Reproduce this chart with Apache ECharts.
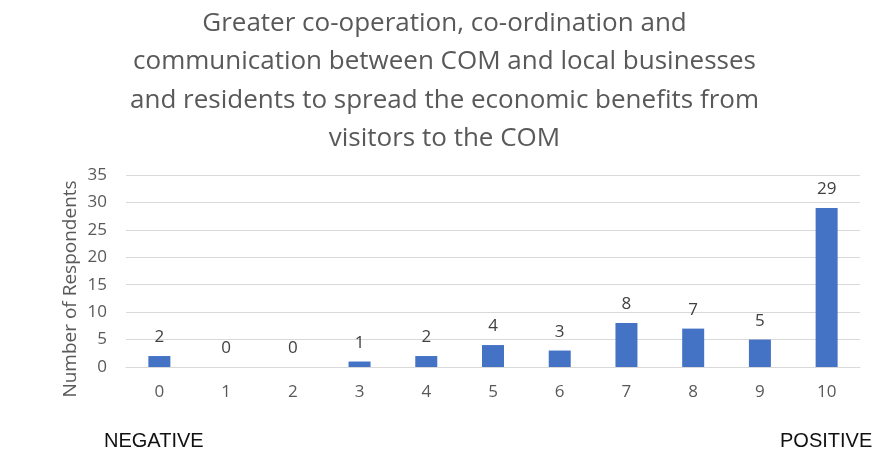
<!DOCTYPE html>
<html>
<head>
<meta charset="utf-8">
<script src="https://cdn.jsdelivr.net/npm/echarts@6/dist/echarts.min.js"></script>
<style>
  html, body { margin: 0; padding: 0; background: #fff; }
  #chart { width: 889px; height: 458px; }
</style>
</head>
<body>
<div id="chart"></div>
<script>
// Scale positions 0 (negative) to 10 (positive)
const categories = ['0', '1', '2', '3', '4', '5', '6', '7', '8', '9', '10'];
// Respondents per scale position
const respondents = [2, 0, 0, 1, 2, 4, 3, 8, 7, 5, 29];
const yTicks = { min: 0, max: 35, interval: 5 };

const titleLines = [
  'Greater co-operation, co-ordination and',
  'communication between COM and local businesses',
  'and residents to spread the economic benefits from',
  'visitors to the COM'
];
const yAxisTitle = 'Number of Respondents';

const font = '"Open Sans", "Noto Sans", sans-serif';
const sideFont = '"Liberation Sans", Arial, sans-serif';
const chart = echarts.init(document.getElementById('chart'), null, { renderer: 'canvas' });

chart.setOption({
  animation: false,
  backgroundColor: '#ffffff',
  title: {
    text: titleLines.join('\n'),
    left: 'center',
    top: -1,
    textStyle: {
      fontFamily: font,
      fontSize: 26,
      fontWeight: 'normal',
      color: '#595959',
      lineHeight: 38.5
    }
  },
  grid: { left: 126, right: 29, top: 175, bottom: 91, containLabel: false },
  xAxis: {
    type: 'category',
    data: categories,
    axisLine: { lineStyle: { color: '#d9d9d9', width: 1 } },
    axisTick: { show: false },
    axisLabel: { color: '#595959', fontSize: 17, fontFamily: font, margin: 17 }
  },
  yAxis: {
    type: 'value',
    min: yTicks.min,
    max: yTicks.max,
    interval: yTicks.interval,
    axisLine: { show: false },
    axisTick: { show: false },
    axisLabel: { color: '#595959', fontSize: 17, fontFamily: font, margin: 19 },
    splitLine: { lineStyle: { color: '#d9d9d9', width: 1 } }
  },
  series: [{
    type: 'bar',
    data: respondents,
    barWidth: 22,
    itemStyle: { color: '#4472c4' },
    label: {
      show: true,
      position: 'top',
      distance: 10,
      color: '#404040',
      fontSize: 17,
      fontFamily: font
    }
  }],
  graphic: [
    {
      type: 'text',
      x: 71,
      y: 289,
      rotation: Math.PI / 2,
      style: {
        text: yAxisTitle,
        fill: '#595959',
        fontSize: 19,
        fontFamily: font,
        align: 'center',
        verticalAlign: 'middle'
      }
    },
    {
      type: 'text',
      left: 104,
      top: 431,
      style: { text: 'NEGATIVE', fill: '#111111', fontSize: 20, fontFamily: sideFont }
    },
    {
      type: 'text',
      left: 780,
      top: 431,
      style: { text: 'POSITIVE', fill: '#111111', fontSize: 20, fontFamily: sideFont }
    }
  ]
});
</script>
</body>
</html>
